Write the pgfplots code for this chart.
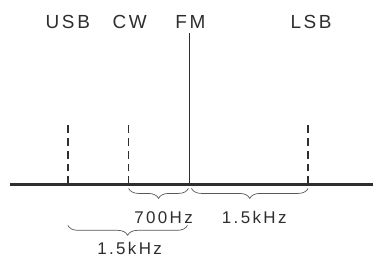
\documentclass[border=0pt]{standalone}
\usepackage{pgfplots}
\pgfplotsset{compat=1.18}
\usepackage{fontspec}
\setmainfont{Liberation Sans}
\usetikzlibrary{decorations.pathreplacing}
\definecolor{ink}{HTML}{2E2E2E}
\newfontfamily\spaced[LetterSpace=14]{Liberation Sans}
\begin{document}
\begin{tikzpicture}
\begin{axis}[
  scale only axis, width=374pt, height=259pt,
  xmin=0, xmax=374, ymin=0, ymax=259,
  hide axis, clip=false,
]
% baseline
\addplot[ink, line width=2.2pt] coordinates {(10,74) (374,74)};
% FM carrier
\addplot[ink, line width=1.4pt] coordinates {(190,74) (190,226)};
% USB, CW, LSB dashed
\addplot[ink, line width=1.6pt, dash pattern=on 8pt off 5pt] coordinates {(68,74) (68,137)};
\addplot[ink, line width=1.6pt, dash pattern=on 8pt off 5pt] coordinates {(129,74) (129,137)};
\addplot[ink, line width=1.6pt, dash pattern=on 8pt off 5pt] coordinates {(309,74) (309,137)};
% invisible frame
\path (axis cs:0,0) rectangle (axis cs:374,259);
% braces
\draw[ink!80, line width=0.7pt, decorate, decoration={brace, mirror, amplitude=10pt}] (axis cs:129,70) -- (axis cs:189,70);
\draw[ink!80, line width=0.7pt, decorate, decoration={brace, mirror, amplitude=10pt}] (axis cs:192,70) -- (axis cs:309,70);
\draw[ink!80, line width=0.7pt, decorate, decoration={brace, mirror, amplitude=10pt}] (axis cs:68,33) -- (axis cs:188,33);
% labels
\begin{scope}[every node/.style={anchor=base, inner sep=0pt, text=ink, font=\fontsize{19}{19}\selectfont\spaced}]
\node at (axis cs:68,230) {USB};
\node at (axis cs:130,230) {CW};
\node at (axis cs:191,230) {FM};
\node at (axis cs:312,230) {LSB};
\end{scope}
\begin{scope}[every node/.style={anchor=base, inner sep=0pt, text=ink, font=\fontsize{17}{17}\selectfont\spaced}]
\node at (axis cs:164,35) {700Hz};
\node at (axis cs:255,35) {1.5kHz};
\node at (axis cs:130,4) {1.5kHz};
\end{scope}
\end{axis}
\end{tikzpicture}
\end{document}
